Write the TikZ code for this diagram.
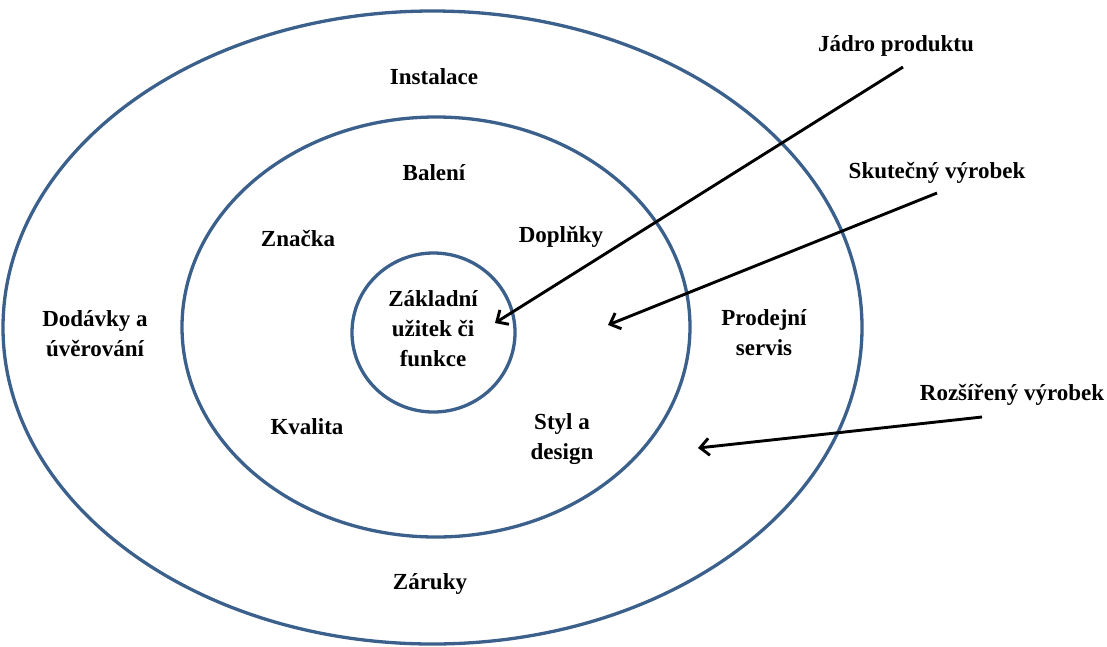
\documentclass[tikz,border=0pt]{standalone}
\usepackage{fontspec}
\setmainfont{Liberation Serif}
\usetikzlibrary{arrows.meta}
\definecolor{ringblue}{RGB}{60,96,140}
\begin{document}
\begin{tikzpicture}[x=1pt,y=-1pt,
  ring/.style={draw=ringblue,line width=3.3pt},
  lbl/.style={font=\bfseries\fontsize{23}{30}\selectfont,align=center,inner sep=0pt},
  pointer/.style={draw=black,line width=2.9pt,-{Straight Barb[length=9pt,width=17pt,line width=2.9pt]}}]
\useasboundingbox (0,0) rectangle (1107,646);
% three nested rings
\draw[ring] (432.5,327.5) ellipse [x radius=429.5pt,y radius=316.5pt];
\draw[ring] (436,327) ellipse [x radius=254pt,y radius=210pt];
\draw[ring] (433.5,332.5) ellipse [x radius=81.5pt,y radius=79.5pt];
% ring labels
\node[lbl] (instalace) at (434,77) {Instalace};
\node[lbl] (baleni) at (434,173) {Balení};
\node[lbl] (znacka) at (298,238) {Značka};
\node[lbl] (doplnky) at (561,237) {Doplňky};
\node[lbl] (zaklad) at (433,329) {Základní\\užitek či\\funkce};
\node[lbl] (dodavky) at (95,334) {Dodávky a\\úvěrování};
\node[lbl] (prodej) at (764,333) {Prodejní\\servis};
\node[lbl] (kvalita) at (307,427) {Kvalita};
\node[lbl] (styl) at (562,439) {Styl a\\design};
\node[lbl] (zaruky) at (430,584) {Záruky};
% level captions
\node[lbl] (jadro) at (896,46) {Jádro produktu};
\node[lbl] (skutecny) at (937,173) {Skutečný výrobek};
\node[lbl] (rozsireny) at (1012,395) {Rozšířený výrobek};
% pointer ends
\coordinate (jadroA) at (903,67);
\coordinate (jadroB) at (495,323);
\coordinate (skutA) at (937,193);
\coordinate (skutB) at (608,325);
\coordinate (rozA) at (982,417);
\coordinate (rozB) at (698,448);
\draw[pointer] (jadroA) -- (jadroB);
\draw[pointer] (skutA) -- (skutB);
\draw[pointer] (rozA) -- (rozB);
\end{tikzpicture}
\end{document}
